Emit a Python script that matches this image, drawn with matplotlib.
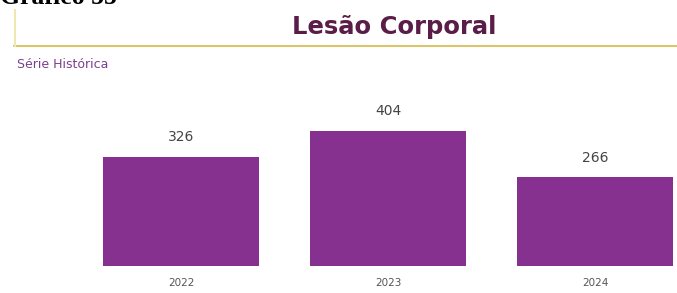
import matplotlib
matplotlib.use("Agg")
import matplotlib.pyplot as plt
from matplotlib.lines import Line2D

years = ["2022", "2023", "2024"]
values = [326, 404, 266]
title = "Lesão Corporal"
subtitle = "Série Histórica"

W, H = 677, 293
fig = plt.figure(figsize=(W / 100, H / 100), dpi=100)

def fy(py):
    return 1 - py / H

# axes: baseline at pixel 266, top at pixel 100
ax = fig.add_axes([0, fy(266), 1, (266 - 100) / H])
pos = list(range(len(years)))
bars = ax.bar(pos, values, width=0.755, color="#86318F")
ax.set_xlim(-181 / 207, (677 - 181) / 207)
ax.set_ylim(0, (266 - 100) * 2.99)
ax.axis("off")
for p, v in zip(pos, values):
    ax.annotate(str(v), (p, v), xytext=(0, 9), textcoords="offset points",
                ha="center", va="bottom", fontsize=10, color="#444444",
                family="DejaVu Sans")
    ax.annotate(years[p], (p, 0), xytext=(0, -9), textcoords="offset points",
                ha="center", va="top", fontsize=7.5, color="#555555",
                family="DejaVu Sans")

# header
fig.text(0.0, fy(4), "Gráfico 55", family="Liberation Serif", fontweight="bold",
         fontsize=18.5, color="black", va="baseline", ha="left")
fig.text(394 / W, fy(27), title, fontsize=17.5, fontweight="bold",
         color="#5A1D47", ha="center", va="center", family="DejaVu Sans")
fig.add_artist(Line2D([14 / W, 1], [fy(46), fy(46)], color="#D9C56A", lw=1.5))
fig.add_artist(Line2D([15 / W, 15 / W], [fy(10), fy(46)], color="#F0E6B0", lw=1.5))
fig.text(17 / W, fy(64), subtitle, fontsize=9, color="#7B3F8F",
         ha="left", va="center", family="DejaVu Sans")

fig.savefig("out.png", dpi=100)
